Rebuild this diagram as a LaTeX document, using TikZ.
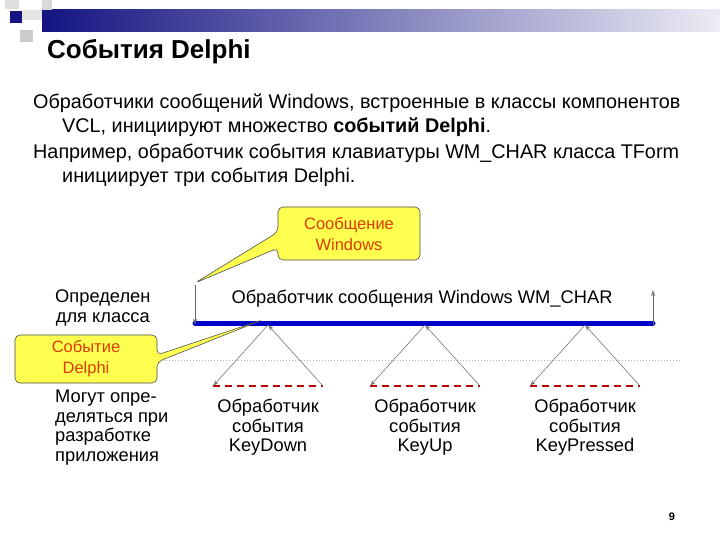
\documentclass[tikz,border=0pt]{standalone}
\usepackage{fontspec}
\setmainfont{Liberation Sans}
\usetikzlibrary{arrows.meta}
\definecolor{navy}{RGB}{20,20,130}
\definecolor{bar}{RGB}{0,0,200}
\definecolor{callfill}{RGB}{255,255,80}
\definecolor{calltext}{RGB}{220,60,0}
\tikzset{
 body/.style={anchor=base west,font=\fontsize{19.8}{22}\selectfont,inner sep=0},
 dia/.style={font=\fontsize{18.3}{19.5}\selectfont,align=center,inner sep=0},
 thin/.style={draw=gray!80!black,line width=0.5pt,-{Stealth[length=6pt,width=4pt,open]}},
 callout/.style={fill=callfill,draw=black!70,line width=0.6pt,rounded corners=5pt},
 ctext/.style={font=\fontsize{16.5}{21}\selectfont,text=calltext,align=center,inner sep=0},
 reddash/.style={draw=red!75!black,line width=1.6pt,dash pattern=on 7pt off 5pt}
}
\begin{document}
\begin{tikzpicture}[x=1pt,y=-1pt]
\useasboundingbox (0,0) rectangle (720,540);
\fill[white] (0,0) rectangle (720,540);
% header decoration
\shade[left color=navy,right color=navy!8] (42,10) rectangle (720,32);
\fill[gray!25] (5,0) rectangle (19,9);
\fill[gray!30] (42,0) rectangle (52,10);
\fill[gray!20] (22,10) rectangle (42,20);
\fill[gray!40] (20,30) rectangle (33,42);
\fill[navy] (10,11) rectangle (22,23);
% title
\node[anchor=base west,font=\bfseries\fontsize{26}{30}\selectfont,inner sep=0] (title) at (47,59) {События Delphi};
% body text
\node[body] (t1) at (33,109) {Обработчики сообщений Windows, встроенные в классы компонентов};
\node[body] (t2) at (62,133) {VCL, инициируют множество \textbf{событий Delphi}.};
\node[body] (t3) at (33,159) {Например, обработчик события клавиатуры WM\_CHAR класса TForm};
\node[body] (t4) at (62,183) {инициирует три события Delphi.};
% diagram
\draw[gray!60,dotted,line width=1pt] (160,360) -- (680,360);
\coordinate (L) at (195,323); \coordinate (R) at (653,323);
\draw[bar,line width=5pt,line cap=round] (L) -- (R);
\coordinate (vtop) at (195,285); \coordinate (rtop) at (653,290);
\draw[thin] (vtop) -- ([yshift=-2pt]L);
\draw[thin] ([yshift=-2pt]R) -- (rtop);
\node[dia,anchor=west] (def) at (55,308) {Определен\\для класса};
\node[dia] (wm) at (422,299) {Обработчик сообщения Windows WM\_CHAR};
\node[dia,anchor=north west,align=left] (may) at (55,390) {Могут опре-\\деляться при\\разработке\\приложения};
\foreach \cx/\nm in {268/KeyDown,425/KeyUp,585/KeyPressed}{
  \coordinate (a\nm) at (\cx,325);
  \coordinate (l\nm) at (\cx-55,386);
  \coordinate (r\nm) at (\cx+55,386);
  \draw[reddash] (l\nm) -- (r\nm);
  \draw[thin] (a\nm) -- (l\nm);
  \draw[thin] (r\nm) -- (a\nm);
  \node[dia,anchor=north] (h\nm) at (\cx,399) {Обработчик\\события\\\nm};
}
% callouts
\draw[callout] (278,207) -- (420,207) -- (420,260) -- (278,260) -- (278,248) -- (195,283) -- (278,232) -- cycle;
\node[ctext] (cw) at (349,234) {Сообщение\\Windows};
\draw[callout] (15,335) -- (157,335) -- (157,355) -- (262,320) -- (157,362) -- (157,383) -- (15,383) -- cycle;
\node[ctext] (cd) at (86,359) {Событие\\Delphi};
\node[font=\bfseries\fontsize{11}{12}\selectfont] (pg) at (672,517) {9};
\end{tikzpicture}
\end{document}
